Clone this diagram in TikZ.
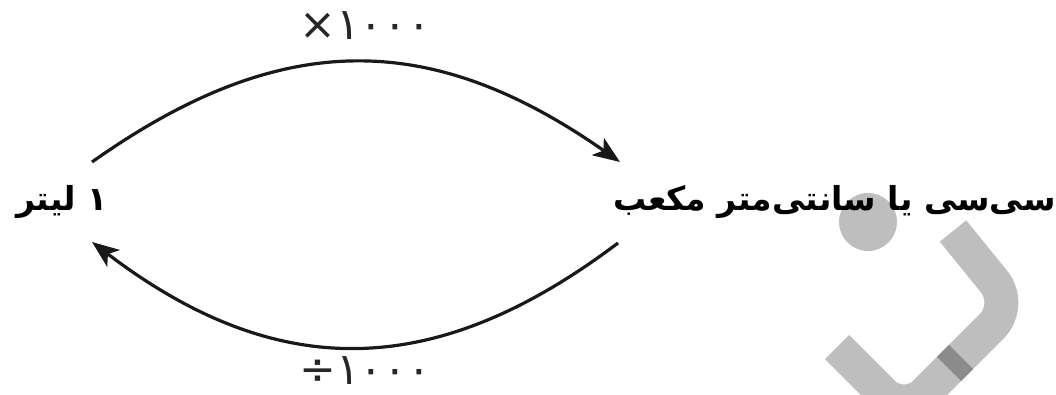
\documentclass[tikz,border=0pt]{standalone}
\usepackage{fontspec}
\usetikzlibrary{arrows.meta}
\TeXXeTstate=1
\newfontfamily\arabicfont[Script=Arabic]{DejaVu Sans}
\newfontfamily\digitfont{DejaVu Sans}
\definecolor{wmgray}{HTML}{BEBEBE}
\definecolor{wmdark}{HTML}{8C8C8C}
\tikzset{
  unit/.style={font=\arabicfont\bfseries\fontsize{33}{40}\selectfont, inner sep=0pt, text=black},
  oplabel/.style={font=\digitfont\fontsize{44}{50}\selectfont, inner sep=0pt, text=black!85},
  conv/.style={line width=3.2pt, draw=black!90, -{Stealth[length=27pt,width=21pt,inset=7pt]}},
  wmband/.style={line width=34pt, draw=wmgray, rounded corners=30pt}
}
\begin{document}
\begin{tikzpicture}[x=1pt,y=-1pt]
\useasboundingbox (0,0) rectangle (1056,395);
% watermark
\begin{scope}
\clip (0,0) rectangle (1056,395);
\fill[wmgray] (868,222) circle[radius=29pt];
\draw[wmband] (953,231) -- (1013,305) -- (904,414) -- (837,347);
\draw[line width=34pt, draw=wmdark] (961,357) -- (949,369);
\end{scope}
% texts
\node[unit, anchor=east] (litre) at (108,202) {\beginR ۱ لیتر\endR};
\node[unit, anchor=west] (cc) at (613,202) {\beginR سی‌سی یا سانتی‌متر مکعب\endR};
\node[oplabel] (mul) at (365,26) {×۱۰۰۰};
\node[oplabel] (div) at (365,371) {÷۱۰۰۰};
% connectors
\coordinate (ts) at (92,162);
\coordinate (te) at (620,162);
\coordinate (bs) at (618,243);
\coordinate (be) at (92,242);
\draw[conv] (ts) .. controls (280,29) and (430,29) .. (te);
\draw[conv] (bs) .. controls (434,382) and (276,382) .. (be);
\end{tikzpicture}
\end{document}
